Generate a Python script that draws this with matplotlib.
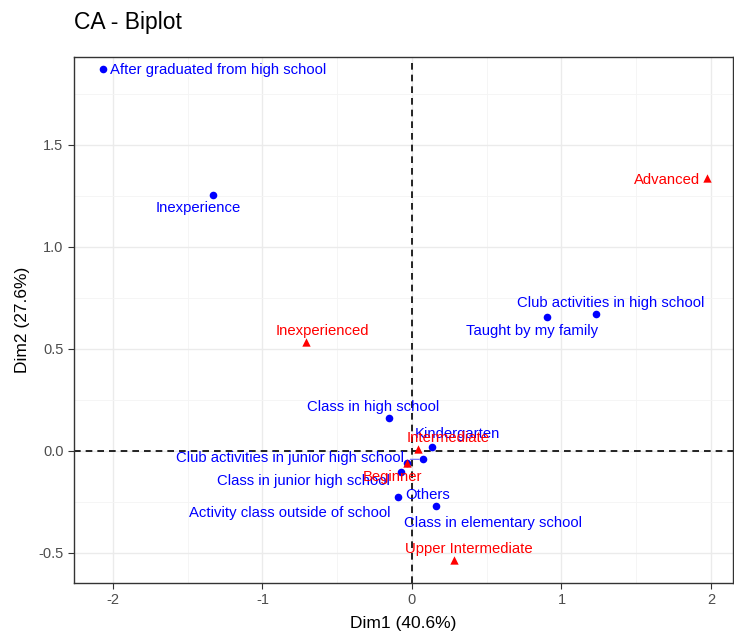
import matplotlib
matplotlib.use('Agg')
import matplotlib.pyplot as plt
from matplotlib.ticker import MultipleLocator

plt.rcParams['font.family'] = ['Liberation Sans', 'DejaVu Sans']
plt.rcParams['axes.unicode_minus'] = False

# row coordinates (where students started)
row_names = ['After graduated from high school', 'Inexperience',
             'Club activities in high school', 'Taught by my family',
             'Class in high school', 'Kindergarten',
             'Club activities in junior high school', 'Class in junior high school',
             'Others', 'Activity class outside of school', 'Class in elementary school']
row_dim1 = [-2.067, -1.331, 1.231, 0.901, -0.154, 0.132, 0.076, -0.076, -0.031, -0.096, 0.159]
row_dim2 = [1.873, 1.255, 0.670, 0.657, 0.162, 0.021, -0.041, -0.104, -0.057, -0.227, -0.270]

# column coordinates (skill level)
col_names = ['Advanced', 'Inexperienced', 'Intermediate', 'Beginner', 'Upper Intermediate']
col_dim1 = [1.971, -0.709, 0.042, -0.031, 0.279]
col_dim2 = [1.337, 0.534, 0.008, -0.057, -0.534]

# label offsets in pixels (dx right, dy down) and horizontal alignment
row_lab = [(7, 1, 'left'), (-15, 13, 'center'), (15, -11, 'center'), (-15, 14, 'center'),
           (-16, -11, 'center'), (26, -13, 'center'), (-133, -1, 'center'),
           (-97, 9, 'center'), (20, 32, 'center'), (-108, 16, 'center'), (57, 17, 'center')]
col_lab = [(-7, 2, 'right'), (16, -11, 'center'), (30, -11, 'center'),
           (-15, 14, 'center'), (15, -11, 'center')]

BLUE, RED = '#0000FF', '#FF0000'
PX = 0.72  # pixels -> points at dpi 100
LABEL_SIZE = 10.7

fig = plt.figure(figsize=(7.34, 6.34), dpi=100)
ax = fig.add_axes([74 / 734, 1 - 583 / 634, 659 / 734, 526 / 634])

ax.set_xlim(-2.26, 2.147)
ax.set_ylim(-0.647, 1.93)
ax.xaxis.set_major_locator(MultipleLocator(1))
ax.xaxis.set_minor_locator(MultipleLocator(0.5))
ax.yaxis.set_major_locator(MultipleLocator(0.5))
ax.yaxis.set_minor_locator(MultipleLocator(0.25))
ax.xaxis.set_major_formatter(lambda v, p: f'{v:.0f}')
ax.yaxis.set_major_formatter(lambda v, p: f'{v:.1f}')
ax.grid(which='major', color='#EBEBEB', lw=1.0, zorder=0)
ax.grid(which='minor', color='#F4F4F4', lw=0.6, zorder=0)
ax.set_axisbelow(True)
for s in ax.spines.values():
    s.set_color('#333333')
    s.set_linewidth(1.0)
ax.tick_params(which='major', length=4, color='#333333', labelsize=10.5, labelcolor='#4D4D4D')
ax.tick_params(which='minor', length=0)

ax.axhline(0, color='black', ls=(0, (4, 3)), lw=1.2, zorder=1)
ax.axvline(0, color='black', ls=(0, (4, 3)), lw=1.2, zorder=1)

ax.scatter(row_dim1, row_dim2, s=30, color=BLUE, marker='o', zorder=3, linewidths=0)
ax.scatter(col_dim1, col_dim2, s=36, color=RED, marker='^', zorder=4, linewidths=0)

for name, x, y, (dx, dy, ha) in zip(row_names, row_dim1, row_dim2, row_lab):
    ax.annotate(name, (x, y), xytext=(dx * PX, -dy * PX), textcoords='offset points',
                ha=ha, va='center', color=BLUE, fontsize=LABEL_SIZE, zorder=5)
for name, x, y, (dx, dy, ha) in zip(col_names, col_dim1, col_dim2, col_lab):
    ax.annotate(name, (x, y), xytext=(dx * PX, -dy * PX), textcoords='offset points',
                ha=ha, va='center', color=RED, fontsize=LABEL_SIZE, zorder=5)

# short leader from the junior high club label to its point
i = row_names.index('Club activities in junior high school')
ax.annotate('', (row_dim1[i], row_dim2[i]), xytext=(-13 * PX, 0), textcoords='offset points',
            arrowprops=dict(arrowstyle='-', color='#6666FF', lw=0.8, shrinkA=0, shrinkB=3))

ax.set_xlabel('Dim1 (40.6%)', fontsize=12.5, labelpad=6)
ax.set_ylabel('Dim2 (27.6%)', fontsize=12.5, labelpad=6)
fig.text(74 / 734, 1 - 22 / 634, 'CA - Biplot', fontsize=16.5, ha='left', va='center')

fig.savefig('out.png', dpi=100)
